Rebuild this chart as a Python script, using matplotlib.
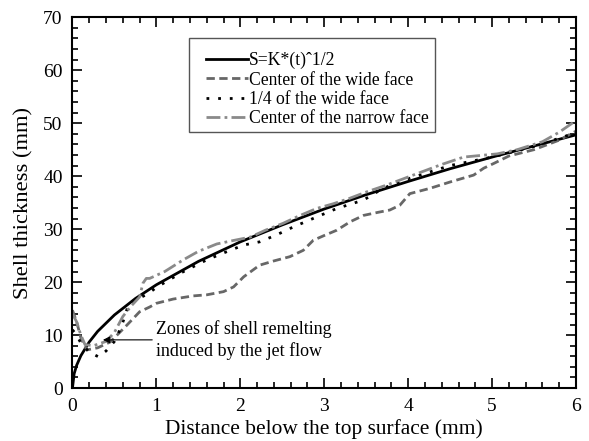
#!/usr/bin/env python3
import matplotlib
matplotlib.use("Agg")
import matplotlib.pyplot as plt
from matplotlib.patches import Rectangle
from matplotlib.transforms import IdentityTransform
from matplotlib.ticker import MultipleLocator

# S = K*(t)^1/2 curve
fit_x = [0, 0.02, 0.05, 0.1, 0.2, 0.3, 0.5, 0.75, 1.0, 1.5, 2.0, 2.5, 3.0,
         3.5, 4.0, 4.5, 5.0, 5.5, 6.0]
fit_y = [0, 2.7, 4.3, 6.1, 8.7, 10.7, 13.8, 16.9, 19.5, 23.9, 27.6, 30.8,
         33.8, 36.5, 39.0, 41.4, 43.6, 45.7, 47.8]

# center of the wide face
wide_x = [0, 0.05, 0.1, 0.17, 0.3, 0.45, 0.65, 0.8, 0.92, 1.0, 1.2, 1.44,
          1.6, 1.8, 1.92, 2.04, 2.23, 2.4, 2.59, 2.75, 2.87, 3.0, 3.15, 3.31,
          3.47, 3.65, 3.78, 3.9, 4.02, 4.26, 4.5, 4.78, 4.9, 5.02, 5.2, 5.5,
          5.8, 6.0]
wide_y = [14.7, 12.5, 9.5, 7.2, 7.6, 8.7, 11.9, 14.4, 15.3, 16.0, 16.8,
          17.4, 17.6, 18.2, 19.1, 21.0, 23.2, 24.0, 24.8, 26.0, 27.9, 28.8,
          29.8, 31.4, 32.6, 33.2, 33.6, 34.5, 36.7, 37.7, 38.9, 40.2, 41.5,
          42.4, 43.8, 45.0, 46.8, 48.5]

# 1/4 of the wide face
quarter_x = [0, 0.05, 0.1, 0.2, 0.31, 0.4, 0.5, 0.58, 0.63, 0.67, 0.75,
             0.9, 1.0, 1.3, 1.6, 1.8, 2.04, 2.23, 2.43, 2.63, 2.91, 3.15,
             3.47, 3.7, 4.0, 4.5, 5.0, 5.5, 6.0]
quarter_y = [11.0, 10.0, 8.5, 6.8, 5.9, 7.0, 8.8, 11.5, 13.8, 16.0, 16.6,
             17.8, 19.0, 21.8, 24.2, 25.5, 27.0, 27.6, 28.9, 30.4, 32.3,
             33.9, 35.5, 37.7, 39.5, 42.0, 43.6, 45.6, 48.2]

# center of the narrow face
narrow_x = [0, 0.05, 0.1, 0.15, 0.25, 0.4, 0.5, 0.6, 0.7, 0.8, 0.84, 0.88,
            0.92, 1.1, 1.32, 1.5, 1.72, 1.9, 2.12, 2.3, 2.51, 2.7, 2.91, 3.11,
            3.3, 3.5, 3.74, 4.06, 4.38, 4.66, 5.06, 5.3, 5.6, 5.8, 6.0]
narrow_y = [14.0, 12.5, 10.0, 8.2, 8.0, 8.8, 10.5, 13.5, 15.5, 17.2, 19.8,
            20.7, 20.7, 22.0, 24.2, 25.8, 27.2, 27.8, 28.5, 29.8, 31.1, 32.5,
            33.9, 34.8, 35.8, 37.0, 38.3, 40.2, 42.1, 43.6, 44.2, 45.0, 46.5,
            48.3, 50.5]

labels = ["S=K*(t)\u02c61/2", "Center of the wide face",
          "1/4 of the wide face", "Center of the narrow face"]


def main() -> None:
    plt.rcParams["font.family"] = ["Liberation Serif", "DejaVu Serif"]
    fig = plt.figure(figsize=(5.89, 4.41), dpi=100)
    ax = fig.add_axes([0.123, 0.120, 0.855, 0.841])

    ax.plot(fit_x, fit_y, color="black", lw=2.0, label=labels[0])
    ax.plot(wide_x, wide_y, color="#676767", lw=2.0, ls=(0, (3, 1.6)),
            label=labels[1])
    ax.plot(quarter_x, quarter_y, color="black", lw=2.0, ls=(0, (1, 3.2)),
            label=labels[2])
    ax.plot(narrow_x, narrow_y, color="#8a8a8a", lw=2.0,
            ls=(0, (5, 1.5, 1, 1.5)), label=labels[3])

    ax.annotate("Zones of shell remelting\ninduced by the jet flow",
                xy=(0.33, 9.1), xytext=(1.0, 9.1), fontsize=13,
                va="center", ha="left", linespacing=1.3,
                arrowprops=dict(arrowstyle="-|>", color="black", lw=0.8,
                                mutation_scale=10, shrinkA=1))

    ax.set_xlim(0, 6)
    ax.set_ylim(0, 70)
    ax.xaxis.set_major_locator(MultipleLocator(1))
    ax.xaxis.set_minor_locator(MultipleLocator(0.2))
    ax.yaxis.set_major_locator(MultipleLocator(10))
    ax.yaxis.set_minor_locator(MultipleLocator(2))
    ax.tick_params(which="both", direction="in", top=True, right=True,
                   width=1.2, labelsize=14)
    ax.tick_params(axis="x", which="major", pad=7)
    ax.tick_params(axis="y", which="major", pad=7)
    ax.tick_params(which="major", length=7.5)
    ax.tick_params(which="minor", length=4.5)
    for s in ax.spines.values():
        s.set_linewidth(1.5)

    ax.set_xlabel("Distance below the top surface (mm)", fontsize=15.4,
                  labelpad=3)
    ax.set_ylabel("Shell thickness (mm)", fontsize=16.2, labelpad=7)

    leg = ax.legend(loc="upper left", bbox_to_anchor=(0.35, 0.882),
                    bbox_transform=fig.transFigure, fontsize=12.7,
                    frameon=False, handlelength=2.35, handletextpad=0.1,
                    labelspacing=0.13, borderpad=0, borderaxespad=0)

    # box round the legend, wider pad on the left and top like the original
    fig.canvas.draw()
    bb = leg.get_window_extent()
    box = Rectangle((bb.x0 - 17, bb.y0 - 5), bb.width + 23, bb.height + 19,
                    transform=IdentityTransform(), fill=False,
                    edgecolor="#555555", lw=1.0)
    fig.add_artist(box)

    fig.savefig("out.png", dpi=100)
    plt.close(fig)


if __name__ == "__main__":
    main()
